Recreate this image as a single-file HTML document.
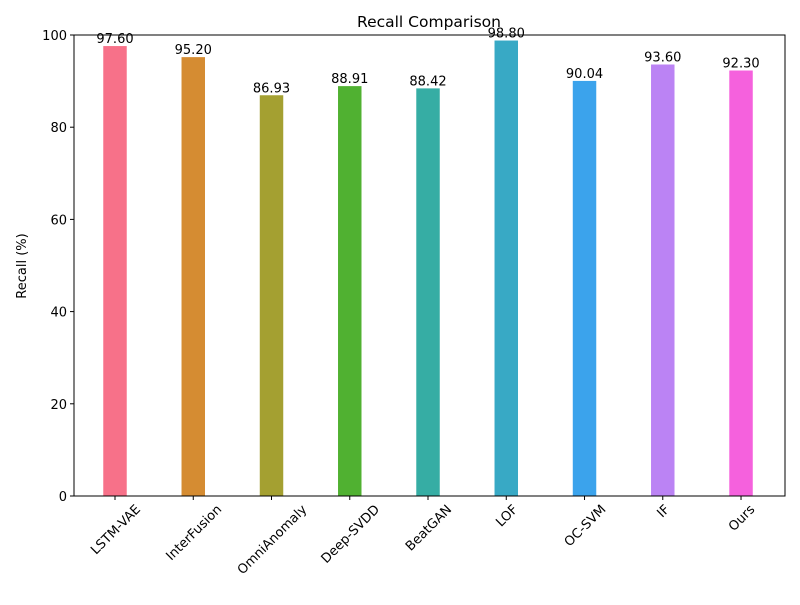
<!DOCTYPE html>
<html><head><meta charset="utf-8"><style>
body{margin:0;background:#fff}
svg{font-family:"DejaVu Sans","Liberation Sans",sans-serif}
</style></head><body>
<svg id="chart" width="800" height="600">
<rect width="800" height="600" fill="#fff"/>
<text x="429" y="27" font-size="15.5" text-anchor="middle">Recall Comparison</text>
<g id="bars"></g><g id="yticks"></g><g id="xticks"></g>
<rect x="74" y="35" width="711" height="461" fill="none" stroke="#000" stroke-width="1"/>
<text transform="translate(26,266) rotate(-90)" font-size="13" text-anchor="middle">Recall (%)</text>
</svg>
<script>
const categories=["LSTM-VAE","InterFusion","OmniAnomaly","Deep-SVDD","BeatGAN","LOF","OC-SVM","IF","Ours"];
const values=[97.60,95.20,86.93,88.91,88.42,98.80,90.04,93.60,92.30];
const valueLabels=["97.60","95.20","86.93","88.91","88.42","98.80","90.04","93.60","92.30"];
const yTicks=[0,20,40,60,80,100];
const colors=["#f77189","#d58c32","#a4a031","#50b131","#36ada4","#38a9c5","#3ba3ec","#bb83f4","#f561dd"];
const NS="http://www.w3.org/2000/svg";
const L=74,R=785,T=35,B=496,xmin=-0.524,xmax=8.562;
const xs=i=>L+(i-xmin)/(xmax-xmin)*(R-L);
const ys=v=>B-v/100*(B-T);
const bw=0.3*(R-L)/(xmax-xmin);
function mk(tag,attrs,parent){const e=document.createElementNS(NS,tag);for(const k in attrs)e.setAttribute(k,attrs[k]);parent.appendChild(e);return e;}
const gb=document.getElementById('bars'),gy=document.getElementById('yticks'),gx=document.getElementById('xticks');
values.forEach((v,i)=>{
 const r=mk('rect',{x:xs(i)-bw/2,y:ys(v),width:bw,height:B-ys(v),fill:colors[i]},gb);
 
 
 const t=mk('text',{x:xs(i),y:ys(v)-3,'font-size':13,'text-anchor':'middle'},gb);t.textContent=valueLabels[i];
 
 
 const tk=mk('line',{x1:xs(i),x2:xs(i),y1:B,y2:B+4,stroke:'#000'},gx);
 
 
 const lb=mk('text',{'font-size':13,'text-anchor':'middle'},gx);lb.textContent=categories[i];
 
 
 const w=lb.getComputedTextLength(),h=10;
 const bwid=(w+h)*0.7071;
 const cx=xs(i),cy=B+7+bwid/2;
 lb.setAttribute('transform',`translate(${cx},${cy}) rotate(-45) translate(0,${h/2})`);
});
yTicks.forEach(v=>{
 const tk=mk('line',{x1:L-4,x2:L,y1:ys(v),y2:ys(v),stroke:'#000'},gy);
 
 
 const t=mk('text',{x:L-7,y:ys(v)+5,'font-size':13,'text-anchor':'end'},gy);t.textContent=v;
 
 
});
</script>
</body></html>
